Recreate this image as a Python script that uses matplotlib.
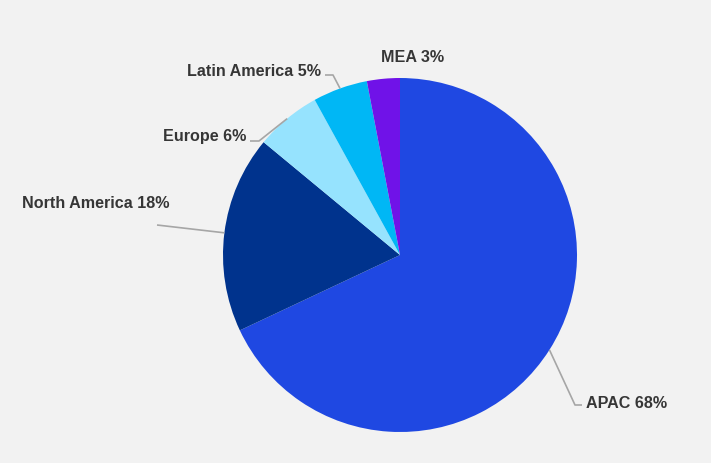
import numpy as np
import matplotlib
matplotlib.use("Agg")
import matplotlib.pyplot as plt

# regional share, clockwise from 12 o'clock
regions = ["APAC", "North America", "Europe", "Latin America", "MEA"]
shares = [68, 18, 6, 5, 3]
colors = ["#1F48E2", "#00338D", "#96E3FE", "#00B7F5", "#7012E8"]

W, H = 711, 463
BG = "#F2F2F2"
TXT = "#363636"
LINE = "#A6A6A6"

fig = plt.figure(figsize=(W / 100, H / 100), dpi=100, facecolor=BG)
ax = fig.add_axes([0, 0, 1, 1])
ax.set_facecolor(BG)

cx, cy, r = 400, H - 255, 177
wedges, _ = ax.pie(shares, colors=colors, startangle=90, counterclock=False,
                   center=(cx, cy), radius=r, wedgeprops=dict(linewidth=0))

ax.set_xlim(0, W)
ax.set_ylim(0, H)
ax.set_aspect("auto")
ax.axis("off")


def edge_point(w):
    ang = np.deg2rad((w.theta1 + w.theta2) / 2)
    return cx + r * np.cos(ang), cy + r * np.sin(ang)


# label layout in pixel coords (y from top): elbow, line end, text anchor, ha
layout = {
    "APAC": ((575, 405), (582, 405), (586, 403), "left"),
    "North America": (None, (157, 225), (170, 203), "right"),
    "Europe": ((259, 141), (250, 141), (246, 137), "right"),
    "Latin America": ((333, 75), (325, 75), (321, 72), "right"),
    "MEA": (None, None, (413, 58), "center"),
}

for w, name, s in zip(wedges, regions, shares):
    elbow, end, txt, ha = layout[name]
    x0, y0 = edge_point(w)
    pts = [(x0, y0)]
    if elbow is not None:
        pts.append((elbow[0], H - elbow[1]))
    if end is not None:
        pts.append((end[0], H - end[1]))
    if len(pts) > 1:
        xs, ys = zip(*pts)
        ax.plot(xs, ys, color=LINE, linewidth=1.2, solid_capstyle="butt")
    ax.text(txt[0], H - txt[1], f"{name} {s}%", ha=ha, va="center",
            fontsize=11.6, fontweight="bold", color=TXT,
            family=["Liberation Sans", "DejaVu Sans"])

fig.savefig("out.png", dpi=100, facecolor=BG)
